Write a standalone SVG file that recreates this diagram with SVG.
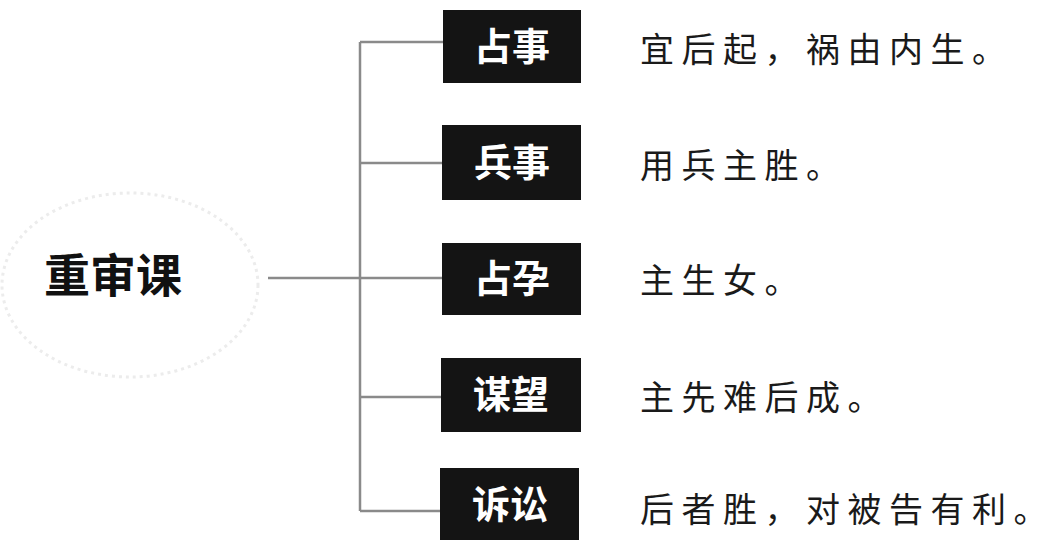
<svg xmlns="http://www.w3.org/2000/svg" width="1059" height="552" viewBox="0 0 1059 552">
<style>
.box{fill:#141414;}
.bt{font-family:"Noto Sans CJK SC","Noto Sans",sans-serif;font-weight:bold;font-size:38px;fill:#ffffff;text-anchor:middle;}
.dt{font-family:"Noto Sans CJK SC","Noto Sans",sans-serif;font-size:34px;fill:#1a1a1a;letter-spacing:7.5px;}
.ln{stroke:#8a8a8a;stroke-width:2.5;fill:none;}
</style>
<rect width="1059" height="552" fill="#ffffff"/>
<g id="root">
<ellipse cx="130" cy="285" rx="128" ry="92" fill="none" stroke="#ececec" stroke-width="3" stroke-dasharray="3 4"/>
<text x="113" y="292" font-family="Noto Sans CJK SC,sans-serif" font-weight="bold" font-size="46" fill="#111" text-anchor="middle">重审课</text>
</g>
<g id="connectors">
<path class="ln" d="M268 278 H360 M360 42 V511 M360 42 H443 M360 163 H443 M360 278 H443 M360 397 H443 M360 511 H441"/>
</g>
<g id="n1"><rect class="box" x="443" y="10" width="138" height="73"/><text class="bt" x="512" y="60">占事</text></g>
<g id="n2"><rect class="box" x="442" y="125" width="139" height="75"/><text class="bt" x="512" y="176">兵事</text></g>
<g id="n3"><rect class="box" x="442" y="243" width="139" height="72"/><text class="bt" x="512" y="292">占孕</text></g>
<g id="n4"><rect class="box" x="441" y="358" width="140" height="74"/><text class="bt" x="511" y="408">谋望</text></g>
<g id="n5"><rect class="box" x="440" y="468" width="139" height="72"/><text class="bt" x="510" y="518">诉讼</text></g>
<g id="d1"><text class="dt" x="640" y="62">宜后起，祸由内生。</text></g>
<g id="d2"><text class="dt" x="640" y="178">用兵主胜。</text></g>
<g id="d3"><text class="dt" x="640" y="293">主生女。</text></g>
<g id="d4"><text class="dt" x="640" y="410">主先难后成。</text></g>
<g id="d5"><text class="dt" x="640" y="522">后者胜，对被告有利。</text></g>
</svg>
